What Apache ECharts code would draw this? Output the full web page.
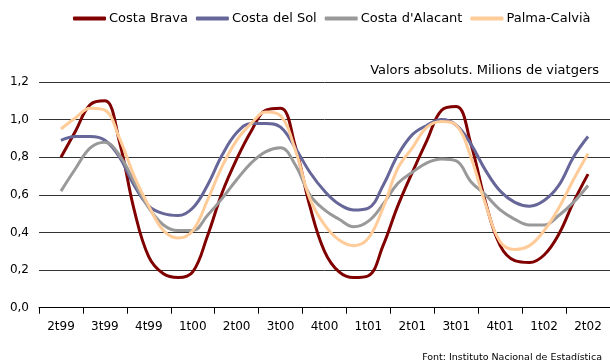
<!DOCTYPE html>
<html>
<head>
<meta charset="utf-8">
<script src="https://cdn.jsdelivr.net/npm/echarts@6/dist/echarts.min.js"></script>
<style>
html,body{margin:0;padding:0;background:#fff;}
#c{width:610px;height:361px;}
</style>
</head>
<body>
<div id="c"></div>
<script>
// Quarter tick labels
const quarters = ['2t99','3t99','4t99','1t00','2t00','3t00','4t00','1t01','2t01','3t01','4t01','1t02','2t02'];
// Series names
const seriesNames = ['Costa Brava','Costa del Sol',"Costa d'Alacant",'Palma-Calvià'];
// Monthly values (3-month centred), from May 1999 to May 2002
const costaBrava = [0.80,0.94,1.08,1.10,0.88,0.52,0.27,0.18, 0.16,0.19,0.38,0.61,0.79,0.94,1.05,1.06,0.86,0.54,0.30,0.19, 0.16,0.17,0.33,0.54,0.72,0.89,1.05,1.07,0.87,0.56,0.33,0.25, 0.24,0.28,0.39,0.56,0.71];
const costaDelSol = [0.89,0.91,0.91,0.89,0.80,0.65,0.54,0.50, 0.49,0.53,0.65,0.81,0.93,0.98,0.98,0.96,0.85,0.72,0.62,0.55, 0.52,0.53,0.65,0.81,0.92,0.97,1.00,0.97,0.87,0.73,0.62,0.56, 0.54,0.57,0.65,0.80,0.91];
const costaAlacant = [0.62,0.74,0.85,0.88,0.81,0.67,0.53,0.44, 0.41,0.41,0.49,0.58,0.68,0.77,0.83,0.85,0.76,0.60,0.52,0.47, 0.43,0.46,0.55,0.66,0.72,0.77,0.79,0.78,0.67,0.60,0.52,0.47, 0.44,0.44,0.49,0.56,0.65];
const palmaCalvia = [0.95,1.01,1.06,1.05,0.90,0.70,0.54,0.41, 0.37,0.41,0.57,0.75,0.89,0.98,1.04,1.02,0.84,0.58,0.44,0.36, 0.33,0.37,0.53,0.74,0.85,0.96,0.99,0.97,0.80,0.55,0.35,0.31, 0.33,0.41,0.53,0.68,0.82];

const colors = ['#800000','#666699','#999999','#FFCC99'];
const allValues = [costaBrava, costaDelSol, costaAlacant, palmaCalvia];

// month slots: 3 per quarter; data starts at the middle month of the first quarter
const months = [];
quarters.forEach(q => { months.push(q + '-1', q + '-2', q + '-3'); });
const pad = v => [null].concat(v).concat([null]);

const FONT = '"DejaVu Sans", Verdana, sans-serif';
const chart = echarts.init(document.getElementById('c'), null, {renderer:'canvas'});
chart.setOption({
  animation: false,
  color: colors,
  textStyle: {fontFamily: FONT},
  legend: {
    top: 7, left: 68,
    itemWidth: 33, itemHeight: 4, itemGap: 8,
    icon: 'roundRect',
    textStyle: {fontSize: 13, color: '#000', fontFamily: FONT, padding: [0,0,0,-2]},
    data: seriesNames
  },
  title: [
    {text: 'Valors absoluts. Milions de viatgers', right: 6, top: 59,
     textStyle: {fontSize: 13, fontWeight: 'normal', color: '#000', fontFamily: FONT}},
    {text: 'Font: Instituto Nacional de Estadística', right: 3, top: 348,
     textStyle: {fontSize: 9.5, fontWeight: 'normal', color: '#000', fontFamily: FONT}}
  ],
  grid: {left: 39, top: 82, width: 574, bottom: 53.3, containLabel: false},
  xAxis: [
    {type: 'category', data: quarters, boundaryGap: true, z: 5,
     axisLine: {show: true, lineStyle: {color: '#000', width: 1}},
     axisTick: {show: true, interval: 0, length: 6, lineStyle: {color: '#000', width: 1}},
     axisLabel: {interval: 0, color: '#000', fontSize: 12, margin: 13, fontFamily: FONT},
     splitLine: {show: false}},
    {type: 'category', data: months, boundaryGap: true, show: false, position: 'bottom'}
  ],
  yAxis: {
    type: 'value', min: 0, max: 1.2, interval: 0.2,
    axisLine: {show: false}, axisTick: {show: false},
    axisLabel: {color: '#000', fontSize: 12, margin: 10, fontFamily: FONT,
      formatter: v => v.toFixed(1).replace('.', ',')},
    splitLine: {lineStyle: {color: '#333', width: 1}}
  },
  series: allValues.map((vals, i) => ({
    name: seriesNames[i], type: 'line', xAxisIndex: 1,
    data: pad(vals), smooth: 0.4, symbol: 'none', showSymbol: false,
    lineStyle: {width: 3, color: colors[i]}, itemStyle: {color: colors[i]}
  }))
});
</script>
</body>
</html>
